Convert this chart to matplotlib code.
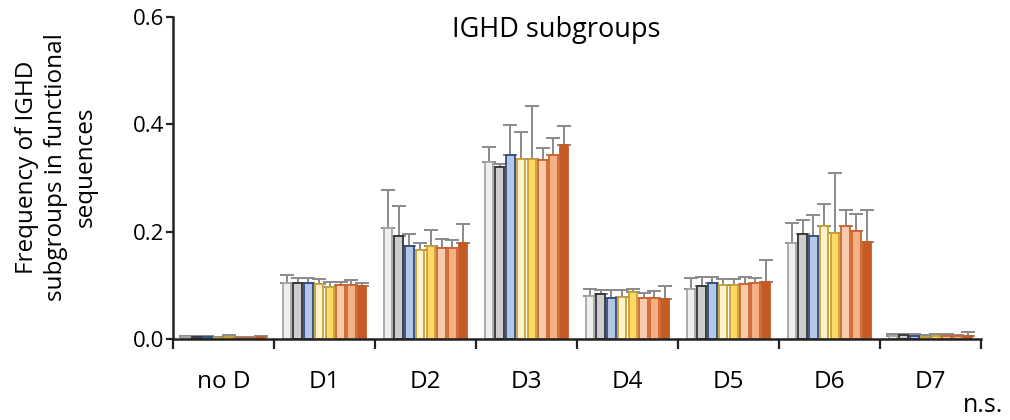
import matplotlib.pyplot as plt
import numpy as np

plt.rcParams['font.family'] = ['Open Sans', 'DejaVu Sans']

groups = ["no D", "D1", "D2", "D3", "D4", "D5", "D6", "D7"]

# bar heights, one list per series (8 series, one value per group)
means = [
    [0.004, 0.104, 0.207, 0.330, 0.081, 0.094, 0.178, 0.006],
    [0.003, 0.105, 0.191, 0.321, 0.083, 0.099, 0.196, 0.007],
    [0.003, 0.105, 0.174, 0.343, 0.076, 0.104, 0.191, 0.006],
    [0.002, 0.102, 0.166, 0.336, 0.079, 0.101, 0.210, 0.004],
    [0.004, 0.097, 0.173, 0.336, 0.087, 0.101, 0.198, 0.005],
    [0.002, 0.101, 0.170, 0.334, 0.076, 0.102, 0.211, 0.006],
    [0.002, 0.101, 0.170, 0.343, 0.076, 0.104, 0.202, 0.005],
    [0.003, 0.099, 0.179, 0.361, 0.075, 0.107, 0.180, 0.006],
]
# top of error bars
tops = [
    [0.006, 0.119, 0.278, 0.358, 0.093, 0.114, 0.217, 0.009],
    [0.005, 0.114, 0.247, 0.327, 0.091, 0.115, 0.221, 0.009],
    [0.005, 0.113, 0.196, 0.399, 0.091, 0.116, 0.231, 0.009],
    [0.004, 0.111, 0.179, 0.385, 0.091, 0.112, 0.252, 0.008],
    [0.008, 0.106, 0.204, 0.435, 0.093, 0.112, 0.309, 0.009],
    [0.004, 0.106, 0.187, 0.356, 0.086, 0.115, 0.241, 0.009],
    [0.004, 0.110, 0.184, 0.375, 0.090, 0.114, 0.232, 0.008],
    [0.006, 0.105, 0.215, 0.396, 0.099, 0.148, 0.240, 0.013],
]

fills = ["#efefef", "#cdcdcd", "#b4c7e7", "#fff2cc", "#ffd966", "#f8cbad", "#f4b183", "#c55a24"]
edges = ["#a6a6a6", "#333333", "#2f4b7c", "#c9a032", "#c9a032", "#d0622c", "#d0622c", "#c55a24"]

fig = plt.figure(figsize=(10.1, 4.2), dpi=100)
ax = fig.add_axes([173/1010, 81/420, 808/1010, 322/420])

x = np.arange(len(groups))
pitch = 0.106
width = 0.085
for i in range(8):
    pos = x + (i - 3.5) * pitch
    m = np.array(means[i])
    err = np.array(tops[i]) - m
    ax.errorbar(pos, m, yerr=[np.zeros_like(err), err], fmt="none",
                ecolor="#8a8a8a", elinewidth=1.4, capsize=5, capthick=1.4, zorder=1)
    ax.bar(pos, m, width=width, color=fills[i], edgecolor=edges[i],
           linewidth=1.3, zorder=2)

ax.set_xlim(-0.5, 7.5)
ax.set_ylim(0, 0.6)
ax.set_yticks([0.0, 0.2, 0.4, 0.6])
ax.set_yticklabels(["0.0", "0.2", "0.4", "0.6"])
ax.set_xticks(x)
ax.set_xticklabels(groups)
ax.set_xticks(np.arange(-0.5, 8, 1), minor=True)
ax.tick_params(axis="x", which="major", length=0, pad=22, labelsize=17.5)
ax.tick_params(axis="x", which="minor", length=7, width=1.6, color="#222222")
ax.tick_params(axis="y", length=5, width=1.6, color="#222222", labelsize=16, pad=1)

for s in ["top", "right"]:
    ax.spines[s].set_visible(False)
for s in ["left", "bottom"]:
    ax.spines[s].set_linewidth(1.8)
    ax.spines[s].set_color("#222222")

fig.text(556/1010, (420-37)/420, "IGHD subgroups", ha="center", va="baseline", fontsize=19.5)
fig.text(56/1010, (420-167)/420, "Frequency of IGHD\nsubgroups in functional\nsequences",
         rotation=90, ha="center", va="center", multialignment="center",
         fontsize=17.5, linespacing=1.3)
fig.text(983/1010, (420-412)/420, "n.s.", ha="center", va="baseline", fontsize=18)

fig.savefig("out.png", dpi=100)
